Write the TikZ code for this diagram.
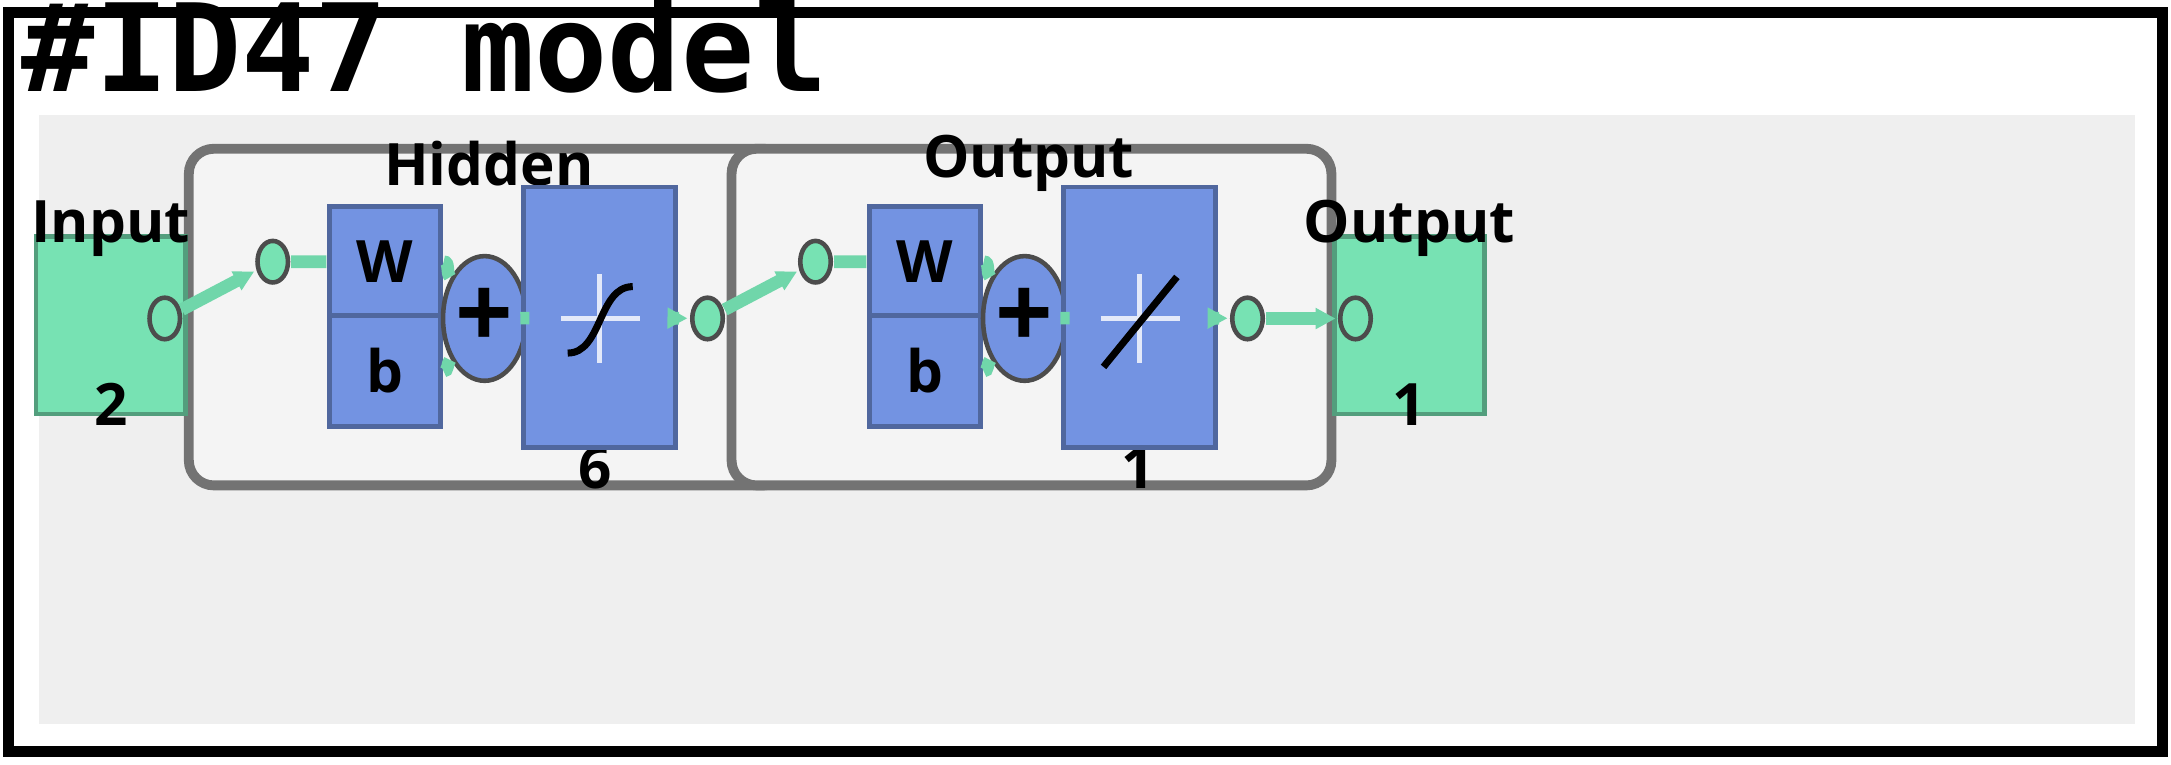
\documentclass[tikz,border=0pt]{standalone}
\usepackage{fontspec}
\setmainfont{Open Sans}
\newfontfamily\monofont{DejaVu Sans Mono}
\usetikzlibrary{arrows.meta,positioning,shapes.geometric}
\definecolor{NetGreen}{HTML}{77E2B3}
\definecolor{LineGreen}{HTML}{70D6AA}
\definecolor{NetBlue}{HTML}{7393E2}
\definecolor{PanelGray}{HTML}{EFEFEF}
\definecolor{BoxGray}{HTML}{F4F4F4}
\tikzset{
  port/.style={ellipse, draw=black!70, fill=NetGreen, line width=1.3pt, minimum width=0.22cm, minimum height=0.3cm, inner sep=0pt},
  iosq/.style={draw=NetGreen!70!black, fill=NetGreen, line width=1.3pt, minimum width=1.08cm, minimum height=1.28cm, inner sep=0pt},
  wbox/.style={draw=NetBlue!70!black, fill=NetBlue, line width=1.3pt, minimum width=0.8cm, minimum height=0.8cm, inner sep=0pt, font=\bfseries\large},
  tfbox/.style={draw=NetBlue!70!black, fill=NetBlue, line width=1.3pt, minimum width=1.1cm, minimum height=1.88cm, inner sep=0pt},
  sumnode/.style={ellipse, draw=black!70, fill=NetBlue, line width=1.3pt, minimum width=0.6cm, minimum height=0.9cm, inner sep=0pt, font=\bfseries\huge},
  layer/.style={draw=black!55, fill=BoxGray, line width=2.8pt, rounded corners=0.25cm, minimum width=4.33cm, minimum height=2.43cm},
  lbl/.style={font=\bfseries\fontsize{12}{14}\selectfont},
  wire/.style={LineGreen, line width=3.6pt},
  flow/.style={wire, -{Triangle[length=0.2cm, width=0.2cm, fill=LineGreen]}, shorten >=0.5pt}
}
\begin{document}
\begin{tikzpicture}[x=0.01cm, y=-0.01cm, scale=1.385, every node/.append style={transform shape}]
  \useasboundingbox (0,0) rectangle (1568,552);
  % frame and panel
  \draw[line width=3.2pt] (6,9) rectangle (1562,543);
  \fill[PanelGray] (28,83) rectangle (1542,523);
  \node[anchor=base west, inner sep=0pt, font=\monofont\bfseries\fontsize{25}{28}\selectfont] (title) at (15,66) {\#ID47 model};

  % layer boxes
  \node[layer] (hid) at (353,229) {};
  \node[layer] (out) at (745,229) {};
  \node[lbl] (hidlbl) at (353,118) {Hidden};
  \node[lbl] (outlbl) at (743,118) {Output};
  \node[lbl] (hidn) at (430,338) {6};
  \node[lbl] (outn) at (822,338) {1};

  % input and output squares
  \node[iosq] (insq) at (80,235) {};
  \node[iosq] (outsq) at (1018,235) {};
  \node[lbl] (inlbl) at (80,165) {Input};
  \node[lbl] (inn) at (80,292) {2};
  \node[lbl] (olbl) at (1018,165) {Output};
  \node[lbl] (on) at (1018,292) {1};

  % hidden layer parts
  \node[wbox] (hW) at (278,189) {W};
  \node[wbox] (hb) at (278,268) {b};
  \node[sumnode] (hsum) at (350,230) {+};
  \node[tfbox] (htf) at (433,229) {};
  \draw[white!80!NetBlue, line width=1.2pt] (405,230) -- (462,230) (433,198) -- (433,262);
  \draw[line width=2pt] (410,255) .. controls (435,255) and (432,207) .. (457,207);

  % output layer parts
  \node[wbox] (oW) at (668,189) {W};
  \node[wbox] (ob) at (668,268) {b};
  \node[sumnode] (osum) at (740,230) {+};
  \node[tfbox] (otf) at (823,229) {};
  \draw[white!80!NetBlue, line width=1.2pt] (795,230) -- (852,230) (823,198) -- (823,262);
  \draw[line width=2pt] (797,265) -- (850,200);

  % ports
  \node[port] (p0) at (119,230) {};
  \node[port] (p1) at (197,189) {};
  \node[port] (p2) at (511,230) {};
  \node[port] (p3) at (589,189) {};
  \node[port] (p4) at (901,230) {};
  \node[port] (p5) at (979,230) {};

  % wires
  \draw[flow] (p0) -- (p1);
  \draw[wire] (p1) -- (hW);
  \draw[wire] (hW.east) to[out=0,in=130] (hsum);
  \draw[wire] (hb.east) to[out=0,in=230] (hsum);
  \draw[wire] (hsum) -- (htf);
  \draw[flow] (htf) -- (p2);
  \draw[flow] (p2) -- (p3);
  \draw[wire] (p3) -- (oW);
  \draw[wire] (oW.east) to[out=0,in=130] (osum);
  \draw[wire] (ob.east) to[out=0,in=230] (osum);
  \draw[wire] (osum) -- (otf);
  \draw[flow] (otf) -- (p4);
  \draw[flow] (p4) -- (p5);
\end{tikzpicture}
\end{document}
